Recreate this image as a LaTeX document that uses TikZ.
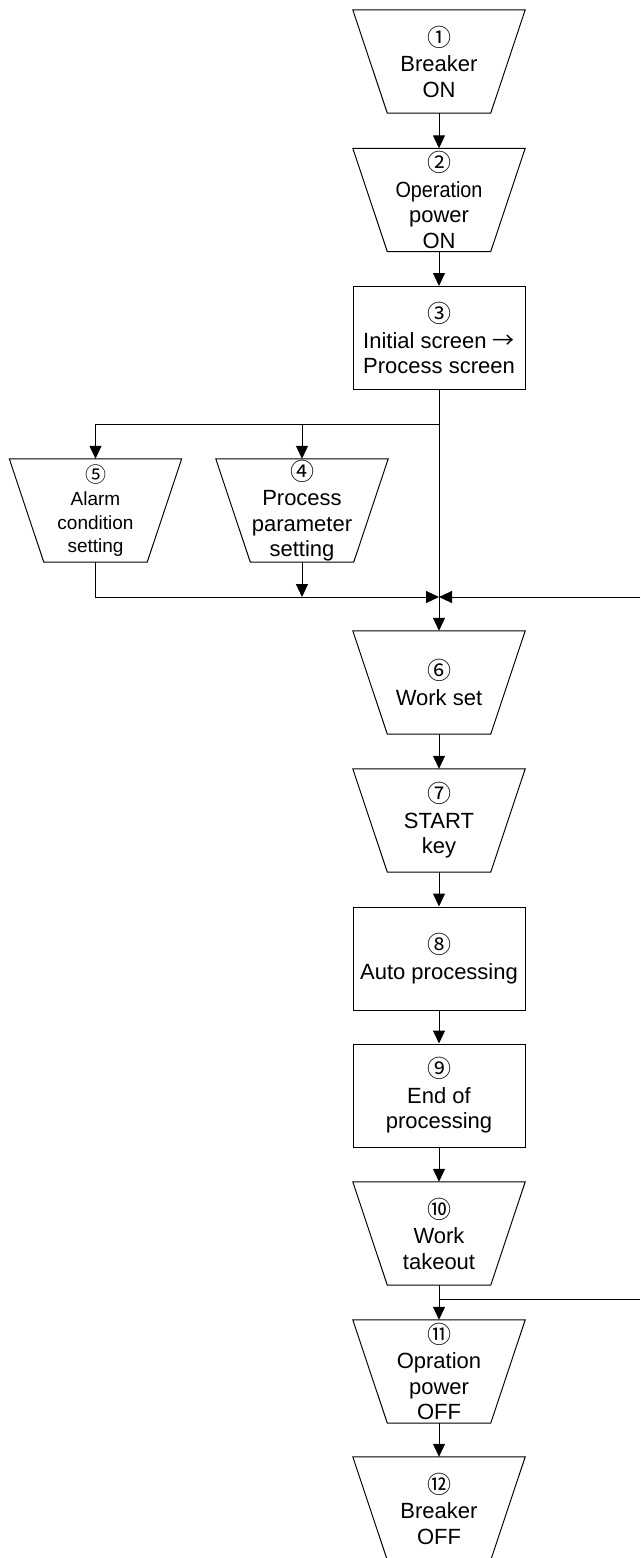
\documentclass[tikz,border=0pt]{standalone}
\usepackage{fontspec}
\setmainfont{Liberation Sans}
\newfontfamily\cjk{Noto Sans CJK JP}
\usetikzlibrary{arrows.meta}
\newcommand\cn[1]{{\cjk #1}}
\newcommand\cnum[1]{{\cjk\fontsize{24}{25.5}\selectfont #1}}
\newcommand\trapz[1]{\draw[shp] (#1.north west) -- (#1.north east) -- ([xshift=-34.5pt]#1.south east) -- ([xshift=34.5pt]#1.south west) -- cycle;}
\begin{document}
\begin{tikzpicture}[x=1pt,y=-1pt,
  shp/.style={line width=1pt, draw=black},
  tb/.style={minimum width=172pt, minimum height=103pt, inner sep=0pt, align=center, font=\fontsize{22}{25.5}\selectfont},
  rb/.style={tb, draw, line width=1pt},
  arr/.style={line width=1pt, -{Triangle[width=12pt,length=13pt]}},
  ln/.style={line width=1pt}]
\clip (0,0) rectangle (640,1558);
\fill[white] (0,0) rectangle (640,1558);

\node[tb] (n1) at (439,61.5) {\cnum{①}\\Breaker\\ON};
\node[tb] (n2) at (439,200) {\cnum{②}\\\scalebox{0.9}[1]{Operation}\\power\\ON};
\node[rb] (n3) at (439,338) {\cnum{③}\\Initial screen \cn{→}\\Process screen};
\node[tb] (n4) at (302,510.5) {\cnum{④}\\Process\\parameter\\setting};
\node[tb, font=\fontsize{19}{23.5}\selectfont] (n5) at (95.5,510.5) {{\cjk\fontsize{21}{23.5}\selectfont ⑤}\\Alarm\\condition\\setting};
\node[tb] (n6) at (439,682.5) {\cnum{⑥}\\Work set};
\node[tb] (n7) at (439,820.5) {\cnum{⑦}\\START\\key};
\node[rb] (n8) at (439,958.5) {\cnum{⑧}\\Auto processing};
\node[rb] (n9) at (439,1095.5) {\cnum{⑨}\\End of\\processing};
\node[tb] (n10) at (439,1233.5) {\cnum{⑩}\\Work\\takeout};
\node[tb] (n11) at (439,1371.5) {\cnum{⑪}\\Opration\\power\\OFF};
\node[tb] (n12) at (439,1508.5) {\cnum{⑫}\\Breaker\\OFF};

\trapz{n1}\trapz{n2}\trapz{n4}\trapz{n5}\trapz{n6}\trapz{n7}
\trapz{n10}\trapz{n11}\trapz{n12}

\coordinate (b1) at (439,424);
\coordinate (m) at (439,597);
\coordinate (rin) at (640,597);
\coordinate (b2) at (439,1299);
\coordinate (rout) at (640,1299);

\draw[arr] (n1.south) -- (n2.north);
\draw[arr] (n2.south) -- (n3.north);
\draw[arr] (n3.south) -- (n6.north);
\draw[arr] (b1) -| (n5.north);
\draw[arr] (b1 -| n4.north) -- (n4.north);
\draw[arr] (n5.south) |- (m);
\draw[arr] (n4.south) -- (n4.south |- m);
\draw[arr] (rin) -- (m);
\draw[arr] (n6.south) -- (n7.north);
\draw[arr] (n7.south) -- (n8.north);
\draw[arr] (n8.south) -- (n9.north);
\draw[arr] (n9.south) -- (n10.north);
\draw[arr] (n10.south) -- (n11.north);
\draw[ln] (b2) -- (rout);
\draw[arr] (n11.south) -- (n12.north);
\end{tikzpicture}
\end{document}
